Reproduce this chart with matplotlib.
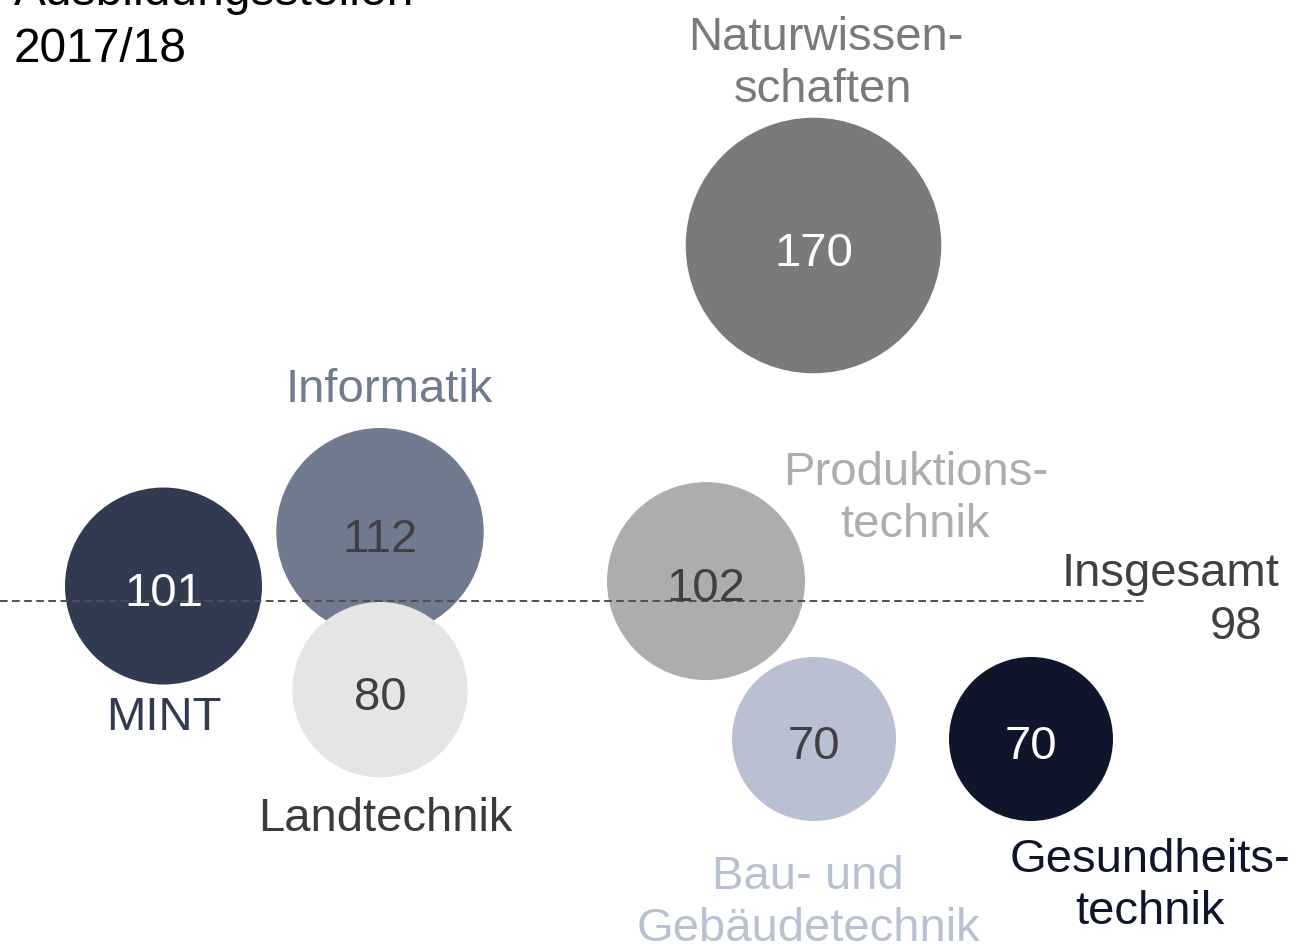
import matplotlib
matplotlib.use("Agg")
import matplotlib.pyplot as plt
import matplotlib.transforms as mtransforms

plt.rcParams["font.family"] = ["Liberation Sans", "DejaVu Sans"]
plt.rcParams["lines.scale_dashes"] = False

# data
categories = ["MINT", "Informatik", "Landtechnik", "Naturwissenschaften",
              "Produktionstechnik", "Bau- und Gebäudetechnik", "Gesundheitstechnik"]
values = [101, 112, 80, 170, 102, 70, 70]
insgesamt = 98

# layout / style
x_pos = [163.5, 380, 380, 813.5, 706, 814, 1031]
colors = ["#303a50", "#717b8f", "#e5e5e5", "#7a7a7a", "#adadad", "#b9c0d2", "#0f152b"]
num_colors = ["white", "#404040", "#404040", "white", "#404040", "#404040", "white"]
label_colors = ["#303a50", "#717b8f", "#3a3a3a", "#7a7a7a", "#adadad", "#b9c0d2", "#0f152b"]
# label lines: (text, x center px, baseline px)
label_lines = [
    [("MINT", 164, 730)],
    [("Informatik", 389, 402)],
    [("Landtechnik", 385, 831)],
    [("Naturwissen-", 826, 50), ("schaften", 823, 102)],
    [("Produktions-", 916, 485), ("technik", 915, 537)],
    [("Bau- und", 808, 889), ("Gebäudetechnik", 808, 941)],
    [("Gesundheits-", 1150, 872), ("technik", 1150, 924)],
]

W, H = 1300, 945
fig = plt.figure(figsize=(13, 9.45), dpi=100)
ax = fig.add_axes([0, 0, 1, 1])
ax.set_xlim(0, W)
ax.set_ylim(28.46, 219.95)
ax.axis("off")

# pixel coordinates, origin top-left
px = mtransforms.Affine2D().scale(1 / W, -1 / H).translate(0, 1) + fig.transFigure

ax.scatter(x_pos, values, s=[199.2 * v for v in values], c=colors,
           linewidths=0, zorder=2)

ax.plot([0, 1145], [insgesamt, insgesamt], color="#505050", lw=1.4,
        dashes=(5.5, 3.2), zorder=3)

FS = 34
for x, v, nc in zip(x_pos, values, num_colors):
    ax.annotate(str(v), xy=(x, v), xytext=(0, -19 * 0.72), textcoords="offset points",
                ha="center", va="baseline", fontsize=FS, color=nc, zorder=4)

for lines, lc in zip(label_lines, label_colors):
    for txt, lx, ly in lines:
        ax.text(lx, ly, txt, transform=px, ha="center", va="baseline",
                fontsize=FS, color=lc, zorder=4)

ax.text(1279, 586, "Insgesamt", transform=px, ha="right", va="baseline",
        fontsize=FS, color="#404040")
ax.text(1262, 639, str(insgesamt), transform=px, ha="right", va="baseline",
        fontsize=FS, color="#404040")

ax.text(14, 5, "Ausbildungsstellen", transform=px, ha="left", va="baseline",
        fontsize=34.5, color="black")
ax.text(14, 62, "2017/18", transform=px, ha="left", va="baseline",
        fontsize=34.5, color="black")

fig.savefig("out.png", dpi=100)
